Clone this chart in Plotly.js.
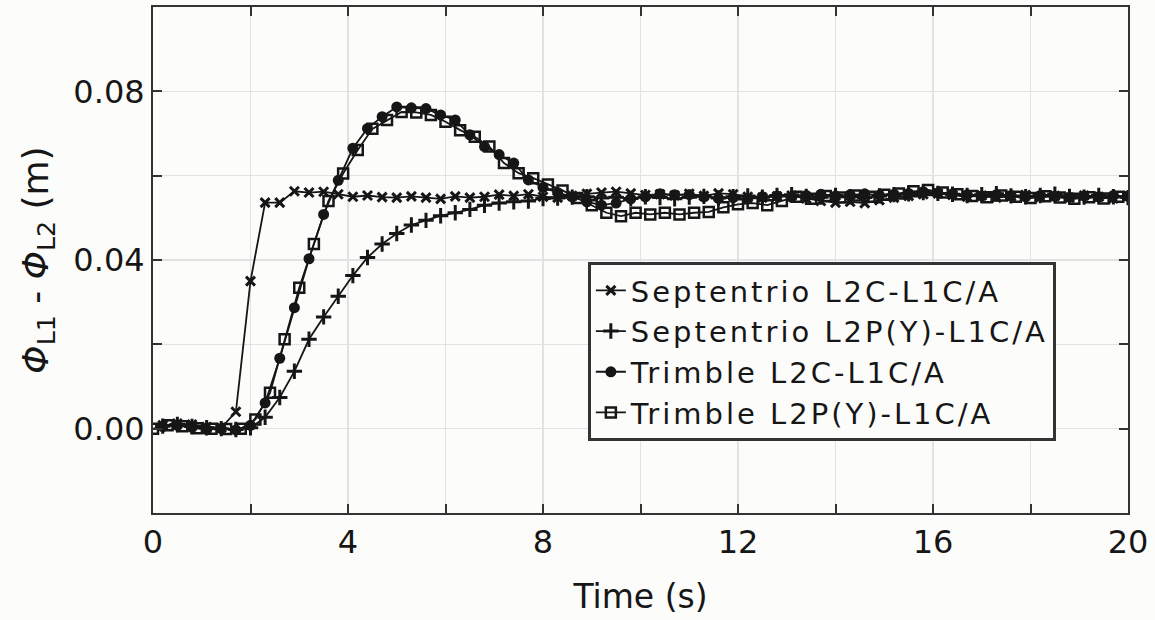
<!DOCTYPE html>
<html>
<head>
<meta charset="utf-8">
<script src="https://cdn.plot.ly/plotly-3.0.1.min.js"></script>
<style>
html,body{margin:0;padding:0;background:#fcfcfa;}
#chart{width:1155px;height:620px;}
.legendtext{letter-spacing:3px;}
</style>
</head>
<body>
<div id="chart"></div>
<script>
// Time samples (s)
const timeA = [0.2,0.5,0.8,1.1,1.4,1.7,2.0,2.3,2.6,2.9,3.2,3.5,3.8,4.1,4.4,4.7,5.0,5.3,5.6,5.9,
  6.2,6.5,6.8,7.1,7.4,7.7,8.0,8.3,8.6,8.9,9.2,9.5,9.8,10.1,10.4,10.7,11.0,11.3,11.6,11.9,
  12.2,12.5,12.8,13.1,13.4,13.7,14.0,14.3,14.6,14.9,15.2,15.5,15.8,16.1,16.4,16.7,17.0,17.3,17.6,17.9,
  18.2,18.5,18.8,19.1,19.4,19.7,20.0];
const timeB = [0.0,0.3,0.6,0.9,1.2,1.5,1.8,2.1,2.4,2.7,3.0,3.3,3.6,3.9,4.2,4.5,4.8,5.1,5.4,5.7,
  6.0,6.3,6.6,6.9,7.2,7.5,7.8,8.1,8.4,8.7,9.0,9.3,9.6,9.9,10.2,10.5,10.8,11.1,11.4,11.7,
  12.0,12.3,12.6,12.9,13.2,13.5,13.8,14.1,14.4,14.7,15.0,15.3,15.6,15.9,16.2,16.5,16.8,17.1,17.4,17.7,
  18.0,18.3,18.6,18.9,19.2,19.5,19.8];

// Φ_L1 - Φ_L2 (m)
const septL2C = [0.0008,0.0012,0.0010,0.0004,0.0002,0.0040,0.0350,0.0536,0.0536,0.0563,
  0.0560,0.0562,0.0556,0.0550,0.0553,0.0549,0.0548,0.0551,0.0548,0.0545,
  0.0551,0.0548,0.0550,0.0555,0.0552,0.0556,0.0550,0.0548,0.0552,0.0557,
  0.0560,0.0562,0.0558,0.0554,0.0556,0.0553,0.0557,0.0552,0.0558,0.0556,
  0.0550,0.0548,0.0551,0.0553,0.0546,0.0540,0.0536,0.0538,0.0535,0.0542,
  0.0548,0.0552,0.0556,0.0558,0.0554,0.0550,0.0553,0.0548,0.0551,0.0554,
  0.0549,0.0552,0.0548,0.0553,0.0550,0.0546,0.0552];
const septL2P = [0.0006,0.0010,0.0005,0.0002,0.0000,-0.0002,0.0002,0.0027,0.0074,0.0136,
  0.0212,0.0265,0.0314,0.0363,0.0406,0.0438,0.0463,0.0483,0.0494,0.0505,
  0.0512,0.0520,0.0530,0.0535,0.0538,0.0540,0.0546,0.0547,0.0549,0.0550,
  0.0547,0.0549,0.0546,0.0550,0.0548,0.0545,0.0549,0.0551,0.0547,0.0550,
  0.0552,0.0549,0.0553,0.0555,0.0551,0.0549,0.0553,0.0550,0.0548,0.0552,
  0.0555,0.0557,0.0560,0.0558,0.0556,0.0553,0.0555,0.0557,0.0552,0.0550,
  0.0553,0.0556,0.0551,0.0549,0.0553,0.0550,0.0548];
const trimL2C = [0.0005,0.0008,0.0003,-0.0002,0.0000,-0.0003,0.0008,0.0061,0.0167,0.0287,
  0.0403,0.0508,0.0589,0.0665,0.0712,0.0740,0.0763,0.0761,0.0759,0.0744,
  0.0732,0.0697,0.0669,0.0650,0.0630,0.0590,0.0572,0.0560,0.0550,0.0538,
  0.0530,0.0535,0.0545,0.0550,0.0557,0.0555,0.0555,0.0550,0.0546,0.0548,
  0.0545,0.0550,0.0552,0.0549,0.0553,0.0556,0.0552,0.0555,0.0557,0.0554,
  0.0556,0.0558,0.0562,0.0559,0.0557,0.0555,0.0552,0.0555,0.0553,0.0550,
  0.0553,0.0551,0.0549,0.0552,0.0550,0.0553,0.0551];
const trimL2P = [0.0000,0.0008,0.0006,0.0001,0.0000,-0.0001,0.0000,0.0022,0.0085,0.0212,
  0.0334,0.0438,0.0540,0.0605,0.0661,0.0711,0.0732,0.0751,0.0750,0.0744,
  0.0728,0.0708,0.0692,0.0669,0.0630,0.0606,0.0594,0.0579,0.0565,0.0547,
  0.0530,0.0512,0.0504,0.0512,0.0508,0.0512,0.0508,0.0512,0.0514,0.0525,
  0.0532,0.0535,0.0530,0.0540,0.0550,0.0545,0.0552,0.0548,0.0553,0.0550,
  0.0555,0.0558,0.0563,0.0566,0.0560,0.0556,0.0552,0.0549,0.0553,0.0550,
  0.0547,0.0551,0.0548,0.0545,0.0549,0.0546,0.0550];

const seriesNames = ['Septentrio L2C-L1C/A','Septentrio L2P(Y)-L1C/A','Trimble L2C-L1C/A','Trimble L2P(Y)-L1C/A'];

const xTickVals = [0,4,8,12,16,20];
const xTickText = ['0','4','8','12','16','20'];
const yTickVals = [0,0.04,0.08];
const yTickText = ['0.00','0.04','0.08'];

const ink = '#161616';
const lineStyle = {color: ink, width: 1.8};

const traces = [
  {x: timeA, y: septL2C, name: seriesNames[0], mode: 'lines+markers', line: lineStyle,
   marker: {symbol: 'x-thin-open', size: 9, color: ink, line: {color: ink, width: 3}}},
  {x: timeA, y: septL2P, name: seriesNames[1], mode: 'lines+markers', line: lineStyle,
   marker: {symbol: 'cross-thin-open', size: 11, color: ink, line: {color: ink, width: 3}}},
  {x: timeA, y: trimL2C, name: seriesNames[2], mode: 'lines+markers', line: lineStyle,
   marker: {symbol: 'circle', size: 11, color: ink, line: {width: 0}}},
  {x: timeB, y: trimL2P, name: seriesNames[3], mode: 'lines+markers', line: lineStyle,
   marker: {symbol: 'square-open', size: 10, color: ink, line: {color: ink, width: 2.5}}}
];

const fontFam = '"DejaVu Sans", "Open Sans", sans-serif';
const gridCol = '#e2e2e2';

const layout = {
  width: 1155, height: 620,
  margin: {l: 153, r: 27, t: 7, b: 107},
  paper_bgcolor: '#fcfcfa',
  plot_bgcolor: '#fcfcfa',
  font: {family: fontFam, color: '#161616', size: 32},
  showlegend: true,
  legend: {
    x: 0.446, y: 0.496, xanchor: 'left', yanchor: 'top',
    bgcolor: '#fcfcfa', bordercolor: '#333333', borderwidth: 3,
    font: {family: fontFam, size: 29, color: '#161616'},
    tracegroupgap: 0
  },
  xaxis: {
    range: [0, 20], tickmode: 'array', tickvals: xTickVals, ticktext: xTickText,
    showgrid: true, gridcolor: gridCol, gridwidth: 1.5,
    minor: {tickmode: 'linear', tick0: 0, dtick: 2, showgrid: true, gridcolor: gridCol, gridwidth: 1.5,
            ticks: 'inside', ticklen: 9, tickwidth: 2, tickcolor: '#333333'},
    showline: true, linecolor: '#333333', linewidth: 2, mirror: 'ticks',
    ticks: 'inside', ticklen: 9, tickwidth: 2, tickcolor: '#333333',
    zeroline: false,
    tickfont: {size: 32},
    title: {text: 'Time (s)', font: {size: 33}, standoff: 24}
  },
  yaxis: {
    range: [-0.02, 0.1], tickmode: 'array', tickvals: yTickVals, ticktext: yTickText,
    showgrid: true, gridcolor: gridCol, gridwidth: 1.5,
    minor: {tickmode: 'linear', tick0: 0, dtick: 0.02, showgrid: true, gridcolor: gridCol, gridwidth: 1.5,
            ticks: 'inside', ticklen: 9, tickwidth: 2, tickcolor: '#333333'},
    showline: true, linecolor: '#333333', linewidth: 2, mirror: 'ticks',
    ticks: 'inside', ticklen: 9, tickwidth: 2, tickcolor: '#333333',
    zeroline: false,
    tickfont: {size: 32},
    title: {text: '<i>Φ</i><sub>L1</sub> - <i>Φ</i><sub>L2</sub> (m)', font: {size: 36}, standoff: 14}
  }
};

Plotly.newPlot('chart', traces, layout, {displayModeBar: false, staticPlot: true});
</script>
</body>
</html>
